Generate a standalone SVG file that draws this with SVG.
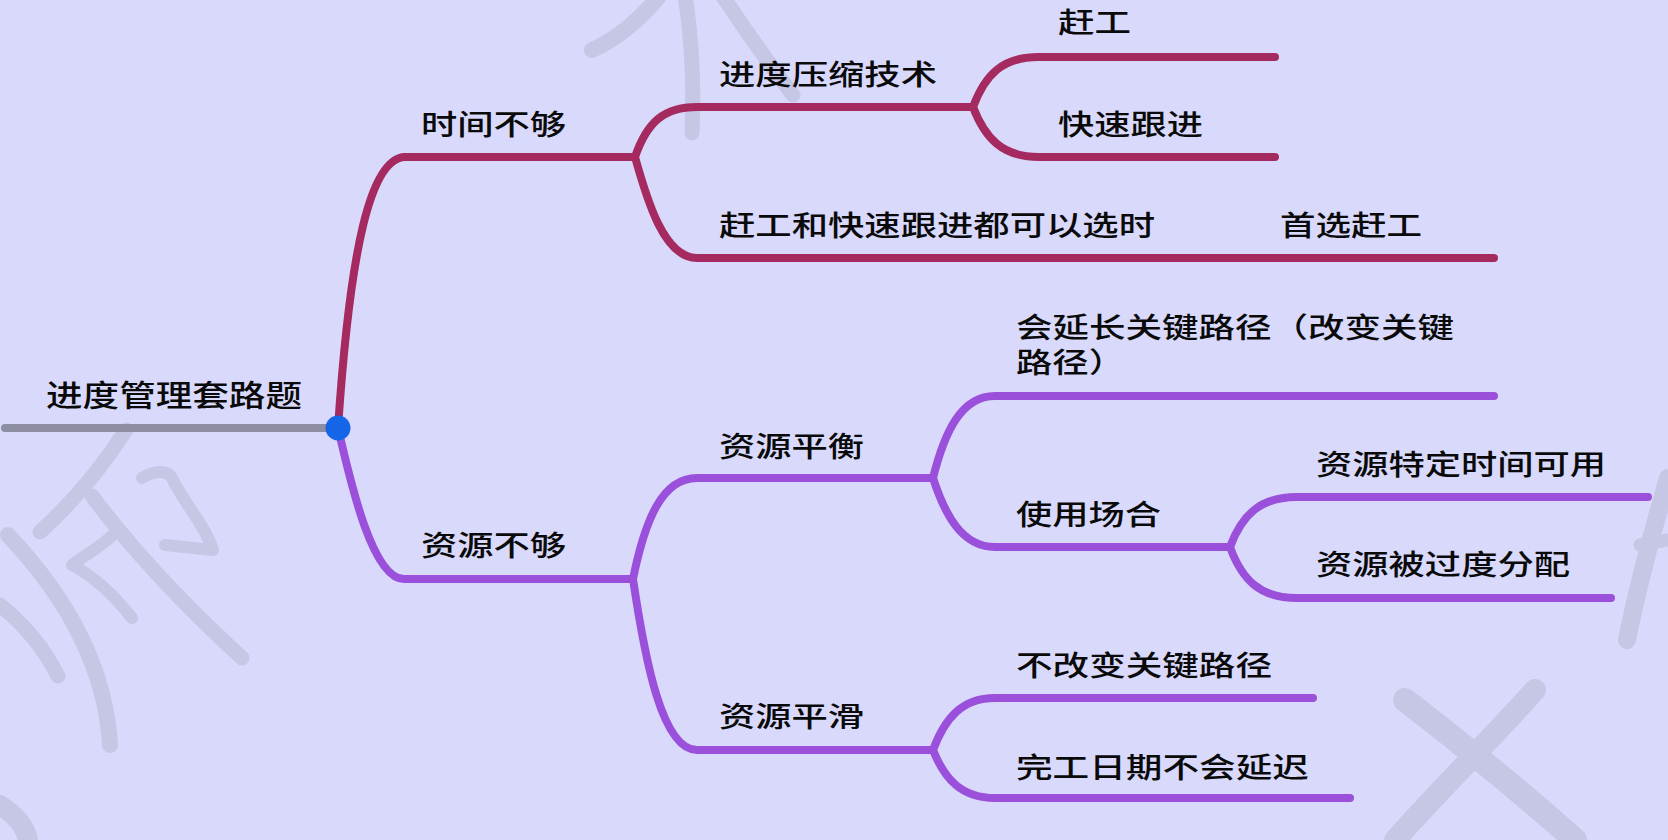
<svg xmlns="http://www.w3.org/2000/svg" width="1668" height="840" viewBox="0 0 1668 840">
<style>
.wm{fill:none;stroke:#c6c6e5;stroke-linecap:round;stroke-linejoin:round}
.l{fill:none;stroke-width:8;stroke-linecap:round;stroke-linejoin:round}
.r{stroke:#a52a5f}
.p{stroke:#9a50da}
.t{font-family:"Noto Sans CJK SC","Noto Sans",sans-serif;font-size:28px;fill:#0a0a0a;font-weight:500}
</style>
<rect width="1668" height="840" fill="#d9d9fc"/>
<g id="watermark">
<path class="wm" stroke-width="16" d="M660,-5 C640,20 615,40 592,50"/>
<path class="wm" stroke-width="15" d="M685,-5 C692,40 694,90 692,133"/>
<path class="wm" stroke-width="15" d="M722,-5 C745,30 770,65 793,95"/>
<path class="wm" stroke-width="15" d="M126,430 C100,470 70,505 40,532"/>
<path class="wm" stroke-width="15" d="M92,496 C140,560 195,615 242,658"/>
<path class="wm" stroke-width="12" d="M142,478 C155,470 168,470 172,478 C185,505 205,525 213,550 L165,545"/>
<path class="wm" stroke-width="12" d="M116,532 C100,548 85,555 72,565 C100,580 118,600 132,618"/>
<path class="wm" stroke-width="16" d="M8,535 C60,590 105,660 110,745"/>
<path class="wm" stroke-width="15" d="M0,605 C25,625 45,650 58,676"/>
<path class="wm" stroke-width="20" d="M0,805 C15,815 25,825 28,840"/>
<path class="wm" stroke-width="18" d="M1668,478 C1650,540 1635,600 1627,640"/>
<path class="wm" stroke-width="13" d="M1640,545 L1668,540"/>
<path class="wm" stroke-width="24" d="M1405,700 C1470,750 1530,800 1575,840"/>
<path class="wm" stroke-width="22" d="M1535,690 C1490,740 1440,790 1395,840"/>
</g>
<g id="connectors">
<path class="l" stroke="#8e8ea2" d="M5,428 H330"/>
<path class="l r" d="M338,428 C350,250 370,160 404,157 H635"/>
<path class="l p" d="M338,428 C350,480 372,579 404,579 H633"/>
<path class="l r" d="M635,157 C647,122 664,107 697,107 H973"/>
<path class="l r" d="M635,157 C647,200 664,258 697,258 H1494"/>
<path class="l r" d="M973,107 C985,75 1002,57 1039,57 H1275"/>
<path class="l r" d="M973,107 C985,138 1002,157 1039,157 H1275"/>
<path class="l p" d="M633,579 C645,520 662,478 697,478 H933"/>
<path class="l p" d="M633,579 C645,660 662,750 697,750 H933"/>
<path class="l p" d="M933,478 C945,430 962,396 995,396 H1494"/>
<path class="l p" d="M933,478 C945,515 962,547 995,547 H1230"/>
<path class="l p" d="M1230,547 C1242,515 1260,497 1297,497 H1648"/>
<path class="l p" d="M1230,547 C1242,580 1260,598 1297,598 H1611"/>
<path class="l p" d="M933,750 C945,718 962,698 995,698 H1313"/>
<path class="l p" d="M933,750 C945,780 962,798 995,798 H1350"/>
</g>
<g id="node-root">
<circle cx="338" cy="428" r="12.5" fill="#1565e8"/>
<text class="t" x="46" y="406" style="font-size:30px" textLength="256" lengthAdjust="spacingAndGlyphs">进度管理套路题</text>
</g>
<g id="node-time"><text class="t" x="421" y="135" textLength="145" lengthAdjust="spacingAndGlyphs">时间不够</text></g>
<g id="node-compress"><text class="t" x="719" y="85" textLength="218" lengthAdjust="spacingAndGlyphs">进度压缩技术</text></g>
<g id="node-crash"><text class="t" x="1058" y="33" textLength="73" lengthAdjust="spacingAndGlyphs">赶工</text></g>
<g id="node-fasttrack"><text class="t" x="1058" y="135" textLength="145" lengthAdjust="spacingAndGlyphs">快速跟进</text></g>
<g id="node-both"><text class="t" x="719" y="236" textLength="436" lengthAdjust="spacingAndGlyphs">赶工和快速跟进都可以选时</text></g>
<g id="node-prefer"><text class="t" x="1280" y="236" textLength="142" lengthAdjust="spacingAndGlyphs">首选赶工</text></g>
<g id="node-resource"><text class="t" x="421" y="556" textLength="145" lengthAdjust="spacingAndGlyphs">资源不够</text></g>
<g id="node-leveling"><text class="t" x="719" y="457" textLength="145" lengthAdjust="spacingAndGlyphs">资源平衡</text></g>
<g id="node-extend">
<text class="t"><tspan x="1016" y="338" textLength="438" lengthAdjust="spacingAndGlyphs">会延长关键路径（改变关键</tspan><tspan x="1016" y="373" textLength="109" lengthAdjust="spacingAndGlyphs">路径）</tspan></text>
</g>
<g id="node-usage"><text class="t" x="1016" y="525" textLength="145" lengthAdjust="spacingAndGlyphs">使用场合</text></g>
<g id="node-specific"><text class="t" x="1316" y="475" textLength="290" lengthAdjust="spacingAndGlyphs">资源特定时间可用</text></g>
<g id="node-over"><text class="t" x="1316" y="575" textLength="254" lengthAdjust="spacingAndGlyphs">资源被过度分配</text></g>
<g id="node-smoothing"><text class="t" x="719" y="727" textLength="145" lengthAdjust="spacingAndGlyphs">资源平滑</text></g>
<g id="node-nochange"><text class="t" x="1016" y="676" textLength="256" lengthAdjust="spacingAndGlyphs">不改变关键路径</text></g>
<g id="node-nodelay"><text class="t" x="1016" y="778" textLength="293" lengthAdjust="spacingAndGlyphs">完工日期不会延迟</text></g>
</svg>
